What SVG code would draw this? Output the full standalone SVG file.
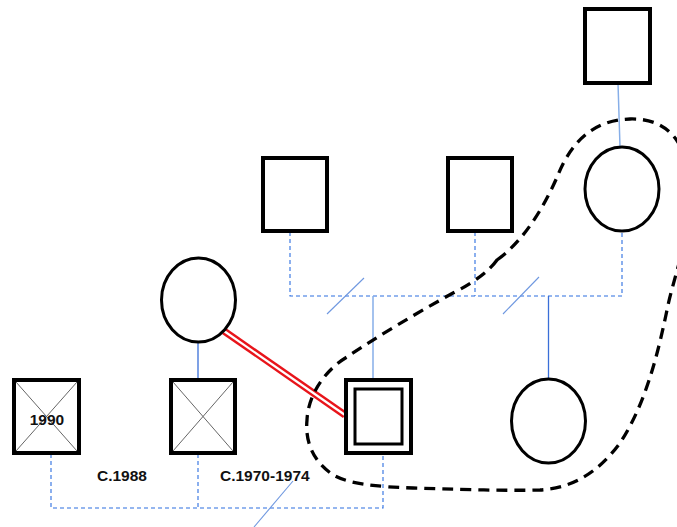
<svg xmlns="http://www.w3.org/2000/svg" width="677" height="527" viewBox="0 0 677 527">
  <style>
    .sq { fill: #fff; stroke: #000; stroke-width: 4; }
    .ci { fill: #fff; stroke: #000; stroke-width: 3; }
    .cross { stroke: #666; stroke-width: 1; }
    .dash { fill: none; stroke: #2d6ee0; stroke-width: 1.1; stroke-dasharray: 4 3; }
    .line { fill: none; stroke: #3a6fd8; stroke-width: 1.3; }
    .light { fill: none; stroke: #86aee8; stroke-width: 1.5; }
    .slash { stroke: #6f98e0; stroke-width: 1.1; }
    .lbl { font-family: "Liberation Sans", Arial, sans-serif; font-weight: bold; font-size: 15.5px; fill: #111; }
  </style>

  <!-- connectors -->
  <g id="connectors">
    <!-- parents' line (upper generation) -->
    <polyline class="dash" points="290,232 290,296 622,296 622,231"/>
    <line class="dash" x1="475" y1="232" x2="475" y2="296"/>
    <line class="slash" x1="327" y1="314" x2="364" y2="278"/>
    <line class="slash" x1="503" y1="314" x2="539" y2="277"/>
    <line class="light" x1="373" y1="296" x2="373" y2="378"/>
    <line class="line" x1="548.5" y1="296" x2="548.5" y2="379"/>
    <line class="light" x1="618" y1="83" x2="620" y2="147"/>
    <line class="line" x1="198" y1="342" x2="198" y2="378"/>
    <!-- lower generation line -->
    <polyline class="dash" points="51,454 51,508 383,508 383,454"/>
    <line class="dash" x1="198" y1="454" x2="198" y2="508"/>
    <line class="slash" x1="293" y1="481" x2="254" y2="527"/>
    <!-- red double relation -->
    <line x1="224" y1="331" x2="345" y2="415" stroke="#e8141a" stroke-width="7"/>
    <line x1="224" y1="331" x2="345" y2="415" stroke="#fff" stroke-width="2.2"/>
    <!-- dashed household boundary -->
    <path d="M 497,260 C 525,240 545,205 558,175 C 572,140 595,120 630,119 C 670,118 690,145 690,195 C 690,235 676,270 668,305 C 658,355 645,405 620,443 C 600,470 575,488 540,490 C 500,491 450,489 413,488 C 380,487 350,484 335,476 C 312,462 305,440 307,420 C 308,395 325,370 347,357 C 375,338 415,314 453,293 C 475,282 490,270 497,260 Z" fill="none" stroke="#000" stroke-width="3.3" stroke-dasharray="11 7"/>
  </g>

  <g id="top-male"><rect class="sq" x="585" y="9" width="65" height="74"/></g>
  <g id="right-female"><ellipse class="ci" cx="622" cy="189" rx="37" ry="42"/></g>
  <g id="male-a"><rect class="sq" x="263" y="158" width="64" height="73"/></g>
  <g id="male-b"><rect class="sq" x="448" y="158" width="64" height="73"/></g>
  <g id="left-female"><ellipse class="ci" cx="198.5" cy="300" rx="37" ry="42"/></g>

  <g id="deceased-1990">
    <rect class="sq" x="14" y="380" width="65" height="73"/>
    <line class="cross" x1="16" y1="382" x2="77" y2="451"/>
    <line class="cross" x1="77" y1="382" x2="16" y2="451"/>
    <text class="lbl" x="47" y="425" text-anchor="middle" font-size="15">1990</text>
  </g>
  <g id="deceased-male">
    <rect class="sq" x="171" y="380" width="64" height="73"/>
    <line class="cross" x1="173" y1="382" x2="233" y2="451"/>
    <line class="cross" x1="233" y1="382" x2="173" y2="451"/>
  </g>

  <g id="index-male">
    <rect class="sq" x="346" y="380" width="65" height="73"/>
    <rect x="355" y="389" width="47" height="55" fill="#fff" stroke="#000" stroke-width="3"/>
  </g>
  <g id="bottom-female"><ellipse class="ci" cx="548.5" cy="421" rx="37" ry="42"/></g>

  <g id="labels">
    <text class="lbl" x="97" y="481">C.1988</text>
    <text class="lbl" x="220" y="481">C.1970-1974</text>
  </g>
</svg>
